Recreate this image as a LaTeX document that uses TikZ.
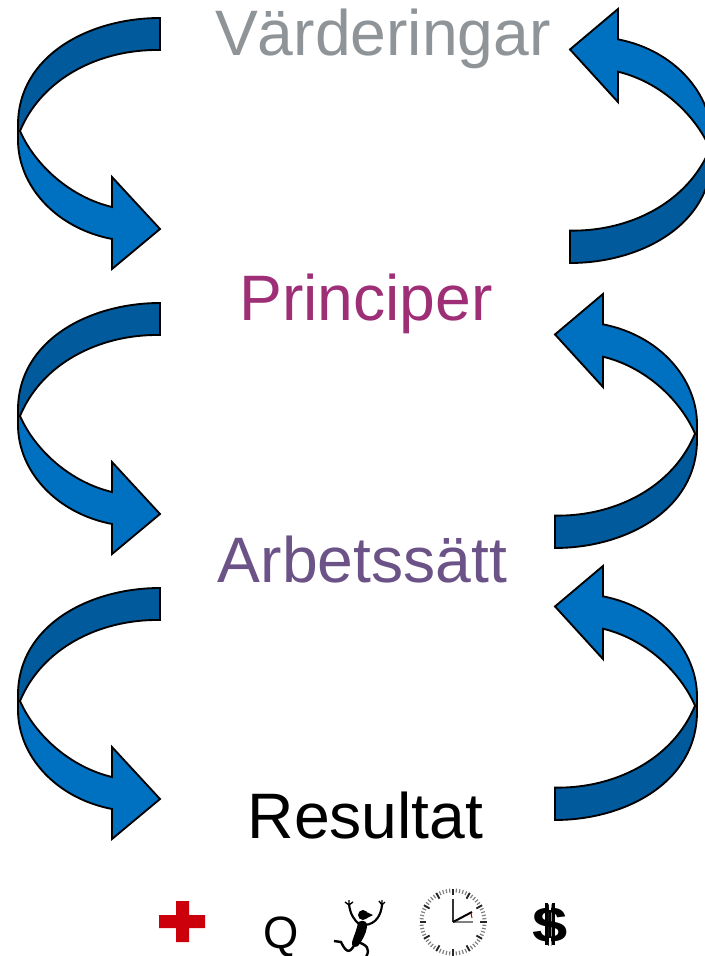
\documentclass[tikz,border=0pt]{standalone}
\usepackage{fontspec}
\setmainfont{Liberation Sans}
\usetikzlibrary{calc}
\definecolor{arrowlight}{RGB}{0,112,192}
\definecolor{arrowdark}{RGB}{0,90,156}
\definecolor{vardgray}{RGB}{142,148,152}
\definecolor{princpurple}{RGB}{158,47,119}
\definecolor{arbviolet}{RGB}{107,83,136}
\definecolor{crossred}{RGB}{204,0,10}
\tikzset{
  word/.style={font=\fontsize{48.2pt}{48pt}\selectfont,anchor=base,inner sep=0pt},
  band/.style={draw=black,line width=1.4pt,line join=miter},
  pics/turnarrow/.style={code={
    \draw[band,fill=arrowdark] (160,18) .. controls (90,18) and (18,55) .. (18,125)
      -- (18,131) -- (20,131) .. controls (42,78) and (100,49) .. (160,50) -- cycle;
    \draw[band,fill=arrowlight] (20,131) .. controls (35,165) and (70,197) .. (112,207)
      -- (112,177) -- (160,229) -- (112,269) -- (112,239)
      .. controls (55,228) and (18,185) .. (18,140) -- (18,131) -- cycle;
  }}
}
\begin{document}
\begin{tikzpicture}[x=0.75pt,y=-0.75pt]
\useasboundingbox (0,0) rectangle (705,956);
\clip (0,0) rectangle (705,956);
% left arrows
\pic at (0,0) {turnarrow};
\pic at (0,285) {turnarrow};
\pic at (0,570) {turnarrow};
% right arrows
\pic[xscale=-1,yscale=-1.012] at (730,281.2) {turnarrow};
\pic[xscale=-1,yscale=-1.012] at (715,566.2) {turnarrow};
\pic[xscale=-1,yscale=-1.012] at (715,838.2) {turnarrow};
% the four words
\node (vard) [word,text=vardgray] at (383,56) {Värderingar};
\node (princ) [word,text=princpurple] at (366,320) {Principer};
\node (arb) [word,text=arbviolet] at (362.5,582) {Arbetssätt};
\node (res) [word] at (365.5,838) {Resultat};
% icons
\fill[crossred] (176,901) -- (189,901) -- (189,915) -- (205,915) -- (205,928) -- (189,928)
  -- (189,942) -- (176,942) -- (176,928) -- (159,928) -- (159,915) -- (176,915) -- cycle;
\node (q) [font=\fontsize{34pt}{34pt}\selectfont,anchor=base,inner sep=0pt] at (281,948) {Q};
% man
\fill (363,915) circle (5);
\fill (362,910) -- (373,915) -- (365,919) -- cycle;
\fill (358,922) .. controls (364,919) and (368,922) .. (367,927)
  .. controls (366,934) and (362,941) .. (358,946)
  .. controls (355,948) and (351,946) .. (352,942) .. controls (354,935) and (357,930) .. (358,922) -- cycle;
\draw[line width=1.6pt] (360,925) .. controls (354,920) and (350,914) .. (349,904);
\draw[line width=1pt] (349,905) -- (345,902) (349,905) -- (349,900) (349,905) -- (353,902);
\draw[line width=1.6pt] (365,925) .. controls (376,924) and (381,915) .. (382,905);
\draw[line width=1pt] (382,905) -- (379,901) (382,905) -- (382,900) (382,905) -- (385,902);
\draw[line width=1.8pt] (355,943) .. controls (349,958) and (344,948) .. (341,942) -- (334,941);
\draw[line width=1.8pt] (358,942) .. controls (366,945) and (371,948) .. (366,957);
% clock
\foreach \a in {0,6,...,354}
  \draw[line width=0.9pt,black!50] ($(453,922)+(\a:29.5)$) -- ($(453,922)+(\a:33.5)$);
\foreach \a in {0,30,...,330}
  \draw[line width=1.4pt,black!85] ($(453,922)+(\a:27)$) -- ($(453,922)+(\a:33.5)$);
\draw[line width=1.5pt,black!50] (453,922) -- (473,922);
\draw[line width=1pt,black!80] (453,922) -- (453,899);
\draw[line width=1.5pt] (453,922) -- (472,912);
\draw[line width=0.8pt,red!80!black] (471,913) -- (472,918);
% dollar, its one stroke split in two
\node (dollar) [font=\bfseries\fontsize{38pt}{38pt}\selectfont,anchor=base,inner sep=0pt,xscale=1.25] at (550,942) {\$};
\draw[line width=1.6pt] (546.5,903) -- (546.5,945);
\draw[line width=1.6pt] (553.5,903) -- (553.5,945);
\draw[line width=1.4pt,white] (550,901) -- (550,910) (550,938) -- (550,947);
\end{tikzpicture}
\end{document}
